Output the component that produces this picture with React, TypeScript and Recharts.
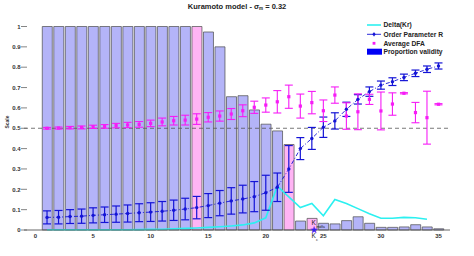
import React from "react";
import {
  Bar,
  Cell,
  ComposedChart,
  ErrorBar,
  Line,
  ReferenceDot,
  ReferenceLine,
  XAxis,
  YAxis
} from "recharts";

const couplings = [
  1, 2, 3, 4, 5, 6, 7, 8, 9, 10, 11, 12, 13, 14, 15, 16, 17, 18, 19, 20, 21, 22, 23, 24, 25, 26, 27, 28,
  29, 30, 31, 32, 33, 34, 35
];
const validity = [
  1, 1, 1, 1, 1, 1, 1, 1, 1, 1, 1, 1, 1, 1, 0.973, 0.9, 0.655, 0.66, 0.59, 0.52, 0.487, 0.42, 0.044, 0.057,
  0.033, 0.03, 0.046, 0.065, 0.033, 0.013, 0.013, 0.015, 0.026, 0.015, 0.006
];
const highlighted = [14, 22, 24];
const deltaKr: (number | null)[] = [
  0.001, 0.001, 0.001, 0.001, 0.001, 0.001, 0.001, 0.001, 0.002, 0.003, 0.004, 0.006, 0.008, 0.01, 0.013,
  0.016, 0.02, 0.025, 0.035, 0.06, 0.215, 0.163, 0.11, 0.13, 0.07, 0.15, 0.13, 0.105, 0.08, 0.058, 0.058,
  0.062, 0.06, 0.053, null
];
const orderR = [
  0.062, 0.063, 0.066, 0.068, 0.072, 0.075, 0.078, 0.081, 0.085, 0.088, 0.092, 0.097, 0.103, 0.11, 0.12,
  0.132, 0.143, 0.152, 0.164, 0.183, 0.21, 0.3, 0.4, 0.45, 0.505, 0.536, 0.593, 0.642, 0.68, 0.712, 0.729,
  0.75, 0.77, 0.79, 0.806
];
const orderRErr = [
  0.032, 0.033, 0.034, 0.035, 0.037, 0.038, 0.04, 0.042, 0.044, 0.046, 0.048, 0.05, 0.053, 0.055, 0.059,
  0.062, 0.065, 0.068, 0.074, 0.086, 0.07, 0.115, 0.054, 0.054, 0.05, 0.04, 0.035, 0.023, 0.023, 0.02, 0.019,
  0.016, 0.016, 0.016, 0.015
];
const avgDfa = [
  0.5, 0.501, 0.503, 0.504, 0.507, 0.509, 0.513, 0.516, 0.519, 0.524, 0.531, 0.537, 0.54, 0.545, 0.554, 0.56,
  0.57, 0.586, 0.603, 0.614, 0.63, 0.655, 0.609, 0.626, 0.586, 0.663, 0.56, 0.581, 0.642, 0.585, 0.619,
  0.672, 0.577, 0.552, 0.618
];
const avgDfaErr = [
  0.004, 0.005, 0.006, 0.007, 0.008, 0.009, 0.011, 0.013, 0.014, 0.016, 0.019, 0.021, 0.024, 0.026, 0.023,
  0.025, 0.027, 0.029, 0.03, 0.035, 0.055, 0.057, 0.059, 0.055, 0.053, 0.04, 0.065, 0.088, 0.025, 0.093,
  0.055, 0.003, 0.05, 0.13, 0.003
];
const xTicks = [0, 5, 10, 15, 20, 25, 30, 35];
const yTicks = [0, 0.1, 0.2, 0.3, 0.4, 0.5, 0.6, 0.7, 0.8, 0.9, 1];
const kc = 24.2;
const kMdfa = 24;

const rows = couplings.map((k, i) => ({
  k,
  prop: validity[i],
  delta: deltaKr[i],
  r: orderR[i],
  rErr: orderRErr[i],
  dfa: avgDfa[i],
  dfaErr: avgDfaErr[i]
}));

const FONT = "'Liberation Sans', Arial, sans-serif";
const BLUE = "#1414d6";
const MAGENTA = "#f61cf6";
const CYAN = "#2cf0f0";

function XTick({ x, y, payload }: any) {
  return (
    <text x={x} y={y + 8.3} textAnchor="middle" fontSize={6} fontWeight="bold" fill="#333" fontFamily={FONT}>
      {payload.value}
    </text>
  );
}

function YTick({ x, y, payload }: any) {
  return (
    <g>
      <text x={x - 3.5} y={y + 2.2} textAnchor="end" fontSize={6} fontWeight="bold" fill="#333" fontFamily={FONT}>
        {payload.value}
      </text>
      <line x1={x - 3} x2={x + 3} y1={y} y2={y} stroke="#666" strokeWidth={0.8} />
    </g>
  );
}

function SquareDot({ cx, cy }: any) {
  if (cx == null || cy == null) return null;
  return <rect x={cx - 1.6} y={cy - 1.6} width={3.2} height={3.2} fill={MAGENTA} />;
}

function KcMark({ cx, cy }: any) {
  const pts: string[] = [];
  for (let i = 0; i < 10; i++) {
    const a = -Math.PI / 2 + (i * Math.PI) / 5;
    const rad = i % 2 === 0 ? 3.6 : 1.5;
    pts.push(`${cx + rad * Math.cos(a)},${cy + rad * Math.sin(a)}`);
  }
  return (
    <g fontFamily={FONT} fill="#222">
      <polygon points={pts.join(" ")} fill="#2a22f0" stroke="#8a30e0" strokeWidth={0.4} />
      <text x={cx - 2.6} y={cy + 7.5} fontSize={6.5}>
        K
      </text>
      <text x={cx + 1.8} y={cy + 11} fontSize={4}>
        c
      </text>
    </g>
  );
}

function KmdfaMark({ cx, cy }: any) {
  return (
    <g fontFamily={FONT} fill="#222">
      <text x={cx - 0.4} y={cy + 6.3} fontSize={6.5}>
        K
      </text>
      <text x={cx + 4.6} y={cy + 9.6} fontSize={3.8}>
        mdfa
      </text>
    </g>
  );
}

function ChartLegend() {
  const txt = { fontSize: 6.7, fontWeight: "bold" as const, fill: "#222", fontFamily: FONT };
  return (
    <g transform="translate(365,20)">
      <line x1={2} x2={16} y1={5} y2={5} stroke={CYAN} strokeWidth={1.6} />
      <text x={18.5} y={7.3} {...txt}>
        Delta(Kr)
      </text>
      <line x1={2} x2={16} y1={14.3} y2={14.3} stroke={BLUE} strokeWidth={0.9} />
      <line x1={9} x2={9} y1={12.3} y2={16.3} stroke={BLUE} strokeWidth={0.9} />
      <circle cx={9} cy={14.3} r={1.4} fill={BLUE} />
      <text x={18.5} y={16.6} {...txt}>
        Order Parameter R
      </text>
      <rect x={7.6} y={21.9} width={2.8} height={2.8} fill={MAGENTA} />
      <text x={18.5} y={25.6} {...txt}>
        Average DFA
      </text>
      <rect x={2} y={28.7} width={15} height={6} fill="#0000f5" />
      <text x={18.5} y={34} {...txt}>
        Proportion validity
      </text>
    </g>
  );
}

export default function App() {
  return (
    <div style={{ position: "absolute", left: 0, top: 0, width: 474, height: 256, background: "#fff" }}>
      <ComposedChart
        width={474}
        height={256}
        data={rows}
        margin={{ top: 26.5, right: 24, bottom: 0, left: 0 }}
      >
        <XAxis
          dataKey="k"
          type="number"
          domain={[-1, 36]}
          ticks={xTicks}
          interval={0}
          height={26}
          tickSize={0}
          tickMargin={0}
          tickLine={false}
          axisLine={{ stroke: "#555", strokeWidth: 0.9 }}
          tick={<XTick />}
          allowDataOverflow
        />
        <YAxis
          type="number"
          domain={[0, 1]}
          ticks={yTicks}
          interval={0}
          width={24}
          tickSize={0}
          tickMargin={0}
          tickLine={false}
          axisLine={false}
          tick={<YTick />}
        />
        <Bar dataKey="prop" barSize={10} stroke="#4a4a4a" strokeWidth={0.7} isAnimationActive={false}>
          {rows.map((row) => (
            <Cell key={row.k} fill={highlighted.includes(row.k) ? "#ffb4f4" : "#b4b4f8"} />
          ))}
        </Bar>
        <ReferenceLine y={0.5} stroke="#555" strokeDasharray="4 3" strokeWidth={0.8} />
        <Line
          dataKey="delta"
          stroke={CYAN}
          strokeWidth={1.6}
          dot={false}
          isAnimationActive={false}
          connectNulls={false}
        />
        <Line
          dataKey="r"
          stroke={BLUE}
          strokeWidth={0.9}
          strokeDasharray="4 2 1 2"
          dot={{ r: 1.7, fill: BLUE, stroke: "none" }}
          isAnimationActive={false}
        >
          <ErrorBar dataKey="rErr" width={4} stroke={BLUE} strokeWidth={1.2} direction="y" />
        </Line>
        <Line dataKey="dfa" stroke="none" dot={<SquareDot />} isAnimationActive={false}>
          <ErrorBar dataKey="dfaErr" width={4} stroke={MAGENTA} strokeWidth={1.1} direction="y" />
        </Line>
        <ReferenceDot x={kMdfa} y={validity[kMdfa - 1]} shape={<KmdfaMark />} ifOverflow="visible" />
        <ReferenceDot x={kc} y={0} shape={<KcMark />} ifOverflow="visible" />
      </ComposedChart>
      <svg
        width={474}
        height={256}
        style={{ position: "absolute", left: 0, top: 0, pointerEvents: "none" }}
        fontFamily={FONT}
      >
        <text x={237} y={8.6} textAnchor="middle" fontSize={7.5} fontWeight="bold" fill="#222">
          Kuramoto model - σ
          <tspan fontSize={4.5} dy={1.8}>
            m
          </tspan>
          <tspan dy={-1.8}> = 0.32</tspan>
        </text>
        <text
          x={0}
          y={0}
          transform="translate(8.6,122) rotate(-90)"
          textAnchor="middle"
          fontSize={5}
          fontWeight="bold"
          fill="#333"
        >
          Scale
        </text>
        <ChartLegend />
      </svg>
    </div>
  );
}
